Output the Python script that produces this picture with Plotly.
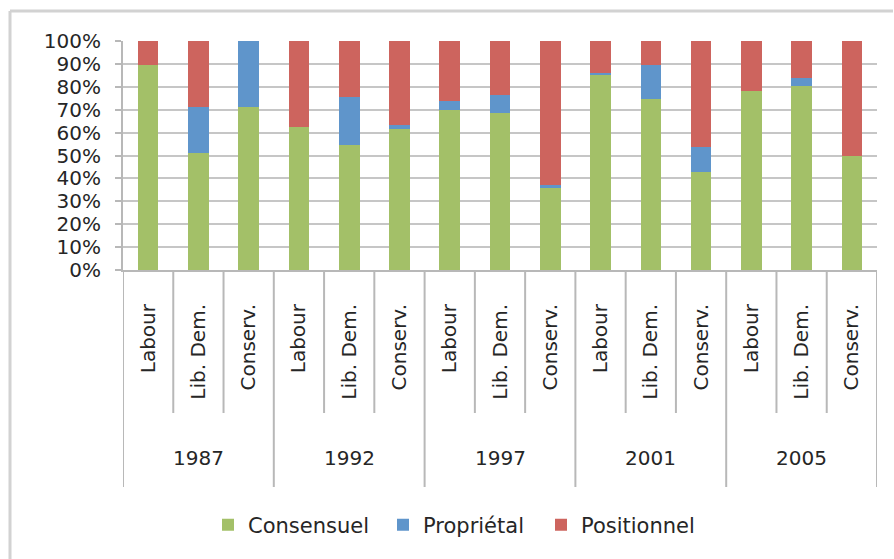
import plotly.graph_objects as go

# Election years and the parties shown within each year
years = ["1987", "1992", "1997", "2001", "2005"]
parties = ["Labour", "Lib. Dem.", "Conserv."]

# Share (%) of each type of issue per party and election
consensuel = [89.5, 51, 71, 62.5, 54.5, 61.5, 70, 68.5, 36, 85, 74.5, 43, 78, 80.5, 50]
proprietal = [0, 20, 29, 0, 21, 2, 4, 8, 1, 1, 15, 10.5, 0, 3.5, 0]
positionnel = [10.5, 29, 0, 37.5, 24.5, 36.5, 26, 23.5, 63, 14, 10.5, 46.5, 22, 16, 50]

series = [
    ("Consensuel", consensuel, "#a3c068"),
    ("Propriétal", proprietal, "#5f95cb"),
    ("Positionnel", positionnel, "#cd645e"),
]

labels = [p for _ in years for p in parties]
xs = list(range(len(labels)))

FONT = "DejaVu Sans"
TXT = "#262626"
GRID = "#c6c6c6"
SEP = "#b8b8b8"

W, H = 894, 559
L, R, T, B = 123, 17, 41, 289
pw, ph = W - L - R, H - T - B


def py(pix):
    # pixel row -> paper y
    return (H - B - pix) / ph


def px(pix):
    # pixel column -> paper x
    return (pix - L) / pw


fig = go.Figure()
legend_ids = ["legend", "legend2", "legend3"]
for (name, vals, col), lg in zip(series, legend_ids):
    fig.add_trace(go.Bar(x=xs, y=vals, name=name, marker_color=col,
                         marker_line_width=0, legend=lg))

shapes = []
# separators under the category axis
n = len(labels)
for k in range(n + 1):
    bottom = 487 if k % len(parties) == 0 else 413
    shapes.append(dict(type="line", xref="x", yref="paper",
                       x0=k - 0.5, x1=k - 0.5, y0=0, y1=py(bottom),
                       line=dict(color=SEP, width=2)))
# outer frame of the chart
shapes.append(dict(type="line", xref="paper", yref="paper",
                   x0=px(10), x1=px(10), y0=py(11), y1=py(570),
                   line=dict(color="#d2d2d2", width=3)))
shapes.append(dict(type="line", xref="paper", yref="paper",
                   x0=px(10), x1=px(893), y0=py(11), y1=py(11),
                   line=dict(color="#d2d2d2", width=3)))

annotations = []
for i, yr in enumerate(years):
    annotations.append(dict(x=i * len(parties) + 1, y=py(458), xref="x", yref="paper",
                            text=yr, showarrow=False,
                            font=dict(family=FONT, size=20, color=TXT),
                            xanchor="center", yanchor="middle"))

# one legend box per series, laid out in a row below the chart
legend_left = [208, 383, 541]
legend_layout = {}
for lg, left in zip(legend_ids, legend_left):
    legend_layout[lg] = dict(orientation="h", x=px(left), xanchor="left",
                             y=py(525), yanchor="middle",
                             bgcolor="rgba(0,0,0,0)",
                             font=dict(family=FONT, size=21, color=TXT))

fig.update_layout(
    width=W, height=H,
    margin=dict(l=L, r=R, t=T, b=B, autoexpand=False),
    paper_bgcolor="white", plot_bgcolor="white",
    barmode="stack", bargap=0.59,
    font=dict(family=FONT, size=20, color=TXT),
    shapes=shapes, annotations=annotations,
    showlegend=True,
    xaxis=dict(range=[-0.5, n - 0.5], tickmode="array", tickvals=xs, ticktext=labels,
               tickangle=-90, ticks="", ticklabelstandoff=24,
               showline=True, linecolor=SEP, linewidth=2, showgrid=False,
               zeroline=False, tickfont=dict(family=FONT, size=20, color=TXT)),
    yaxis=dict(range=[0, 100], tick0=0, dtick=10, ticksuffix="%",
               ticks="outside", ticklen=6, tickcolor=SEP, tickwidth=2,
               showline=True, linecolor=SEP, linewidth=2,
               showgrid=True, gridcolor=GRID, gridwidth=2, zeroline=False,
               ticklabelstandoff=10,
               tickfont=dict(family=FONT, size=20, color=TXT)),
    **legend_layout,
)

fig.write_html("out.html")
